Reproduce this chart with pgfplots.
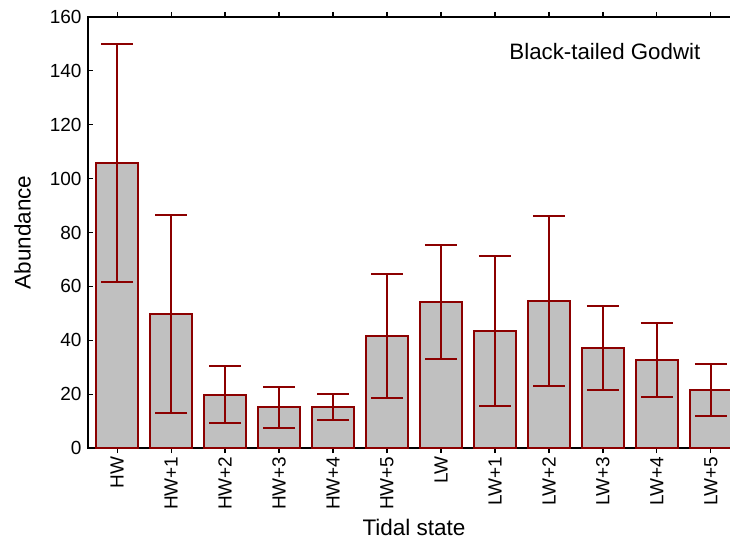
\documentclass[border=0pt]{standalone}
\usepackage{fontspec}
\setmainfont{Liberation Sans}
\usepackage{pgfplots}
\usepackage{pgfplotstable}
\pgfplotsset{compat=1.18}
\definecolor{dred}{RGB}{140,0,0}
\definecolor{bfill}{RGB}{192,192,192}
\pgfplotstableread{
x y err
0 105.8 44.2
1 49.7 36.7
2 19.7 10.6
3 15.2 7.6
4 15.2 4.9
5 41.6 22.9
6 54.2 21.2
7 43.4 27.9
8 54.6 31.6
9 37.1 15.6
10 32.7 13.8
11 21.5 9.7
}\datatab
\begin{document}
\begin{tikzpicture}
\path[use as bounding box, clip] (-88pt,-98pt) rectangle (642pt,448pt);
\begin{axis}[
  scale only axis,
  width=652pt, height=431pt,
  xmin=-0.54, xmax=11.54,
  ymin=0, ymax=160,
  ytick={0,20,...,160},
  xtick=data,
  xticklabels={HW,HW+1,HW+2,HW+3,HW+4,HW+5,LW,LW+1,LW+2,LW+3,LW+4,LW+5},
  x tick label style={rotate=90, anchor=east, font=\fontsize{19}{22}\selectfont},
  y tick label style={font=\fontsize{19}{22}\selectfont, xshift=-3pt},
  /pgf/number format/assume math mode=true,
  tick align=inside,
  major tick length=5pt,
  ytick pos=left,
  xtick pos=both,
  axis line style={line width=1.4pt, black},
  tick style={line width=1.2pt, black},
  ylabel={Abundance},
  xlabel={Tidal state},
  label style={font=\fontsize{22.5}{26}\selectfont},
  ylabel style={yshift=12pt},
  xlabel style={yshift=-2pt},
  ybar, bar width=42pt, bar shift=0pt,
]
\addplot[fill=bfill, draw=dred, line width=1.8pt,
  error bars/.cd, y dir=both, y explicit,
  error mark=|,
  error bar style={line width=1.8pt, draw=dred},
  error mark options={mark size=16pt, line width=2pt, draw=dred, fill=dred}]
  table[x=x, y=y, y error=err] {\datatab};
\node[anchor=east, font=\fontsize{22.3}{26}\selectfont] at (axis cs:10.87,147) {Black-tailed Godwit};
\end{axis}
\end{tikzpicture}
\end{document}
